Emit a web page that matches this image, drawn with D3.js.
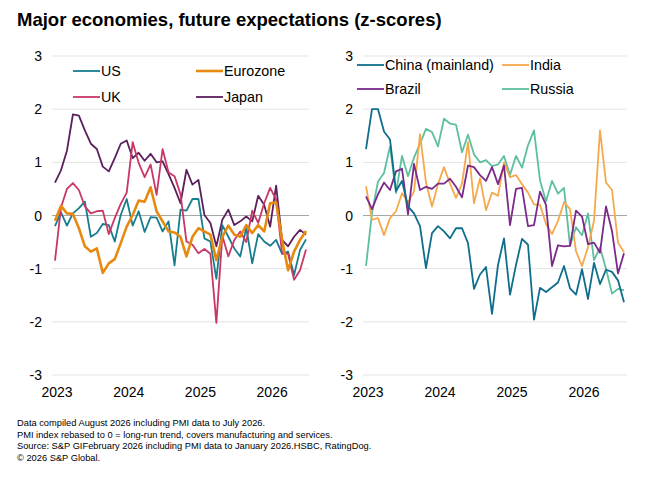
<!DOCTYPE html>
<html>
<head>
<meta charset="utf-8">
<script src="https://cdn.jsdelivr.net/npm/d3@7"></script>
<style>
  body { margin: 0; background: #fff; }
  text { font-family: "Liberation Sans", Arial, sans-serif; fill: #000; }
</style>
</head>
<body>
<div id="chart"></div>
<script>
// monthly z-scores, Jan 2023 onwards
const us = [-0.2, 0.06, -0.19, 0.04, 0.14, 0.26, -0.4, -0.33, -0.16, -0.18, -0.49, 0.01, 0.31, -0.19, 0.08, -0.31, -0.03, -0.04, -0.3, -0.11, -0.94, 0.11, 0.09, 0.31, 0.31, -0.43, -0.49, -1.19, -0.18, -0.4, -0.62, -0.77, -0.23, -0.9, -0.35, -0.49, -0.57, -0.46, -0.72, -0.68, -1.12, -0.65, -0.45];
const eurozone = [-0.1, 0.18, 0.04, 0.03, -0.24, -0.58, -0.68, -0.62, -1.08, -0.9, -0.82, -0.52, -0.21, 0.01, 0.28, 0.26, 0.53, 0.08, -0.11, -0.3, -0.32, -0.4, -0.77, -0.4, -0.24, -0.3, -0.36, -0.84, -0.4, -0.19, -0.36, -0.4, -0.18, -0.33, -0.18, -0.3, 0.23, 0.25, -0.46, -1.03, -0.68, -0.46, -0.29];
const uk = [-0.85, 0.15, 0.5, 0.61, 0.48, 0.17, 0.04, 0.08, 0.09, -0.35, -0.05, 0.22, 0.43, 1.38, 0.99, 0.72, 0.96, 0.39, 1.25, 0.81, 0.74, 0.4, -0.49, -0.55, -0.71, -0.63, -0.72, -2.02, -0.38, -0.77, -0.46, -0.3, -0.5, 0.09, -0.14, 0.23, 0.52, 0.3, -0.71, -0.72, -1.21, -1.03, -0.64];
const japan = [0.62, 0.85, 1.22, 1.9, 1.88, 1.6, 1.35, 1.25, 0.92, 0.83, 1.08, 1.35, 1.41, 1.08, 1.18, 1.03, 1.16, 1.0, 1.02, 0.78, 0.52, 0.23, 0.86, 0.58, 0.67, 0.01, -0.14, -0.58, -0.08, 0.11, -0.18, -0.11, -0.02, -0.11, 0.37, 0.2, -0.21, 0.56, -0.46, -0.58, -0.4, -0.27, -0.36];

const china = [1.25, 2.0, 2.0, 1.58, 1.43, 0.46, 0.65, 0.17, 0.04, -0.2, -0.99, -0.33, -0.2, -0.3, -0.43, -0.24, -0.24, -0.52, -1.38, -1.11, -0.97, -1.85, -0.93, -0.43, -1.49, -0.93, -0.44, -0.55, -1.96, -1.36, -1.44, -1.35, -1.26, -0.95, -1.37, -1.49, -1.01, -1.57, -0.89, -1.29, -1.02, -1.06, -1.22, -1.63];
const india = [0.55, -0.08, -0.05, -0.37, -0.05, 0.08, 0.42, 0.25, 0.45, 1.53, 0.62, 0.17, 0.59, 0.91, 0.6, 0.33, 0.6, 1.38, 0.23, 0.7, 0.1, 0.43, 0.37, 1.0, 0.72, 0.76, 0.59, 0.43, 0.21, 0.2, -0.16, -0.35, -0.1, 0.25, 0.12, -0.67, -0.95, -0.6, -0.1, 1.6, 0.62, 0.48, -0.51, -0.69];
const brazil = [0.36, 0.12, 0.4, 0.62, 0.48, 0.83, 0.88, 0.02, 0.97, 0.48, 0.54, 0.5, 0.6, 0.6, 0.69, 0.54, 0.34, 0.94, 0.91, 0.76, 0.65, 0.91, 0.59, 0.94, -0.18, 0.5, 0.52, -0.2, -0.18, 0.45, 0.2, -0.95, -0.56, -0.58, -0.57, 0.09, -0.02, -0.54, -0.51, -0.7, 0.17, -0.29, -1.09, -0.71];
const russia = [-0.95, 0.05, 0.64, 0.8, 1.3, 0.42, 1.12, 0.74, 1.09, 1.35, 1.63, 1.57, 1.3, 1.82, 1.73, 1.71, 1.19, 1.52, 1.15, 1.0, 1.04, 0.93, 0.96, 1.12, 0.76, 1.12, 0.9, 1.32, 1.6, 0.66, 0.27, 0.65, 0.41, 0.52, -0.57, -0.22, -0.37, 0.04, -0.84, -0.6, -1.0, -1.47, -1.38, -1.41];

const yearLabels = ["2023", "2024", "2025", "2026"];
const yTicks = [3, 2, 1, 0, -1, -2, -3];

const footnotes = [
    "Data compiled August 2026 including PMI data to July 2026.",
    "PMI index rebased to 0 = long-run trend, covers manufacturing and services.",
    "Source: S&P GIFebruary 2026 including PMI data to January 2026.HSBC, RatingDog.",
    "\u00A9 2026 S&P Global."
];

let w = 652;
let h = 483;

let svg = d3.select("#chart")
    .append("svg")
    .attr("width", w)
    .attr("height", h)
    .style("background-color", "#fff");

svg.append("text")
    .attr("x", 17)
    .attr("y", 26)
    .style("font-size", "18.5px")
    .style("font-weight", "bold")
    .text("Major economies, future expectations (z-scores)");

const y = d3.scaleLinear().domain([-3, 3]).range([375, 56]);

function drawPanel(opts) {
    const n = opts.series[0].values.length;
    const x = d3.scalePoint()
        .domain(d3.range(n))
        .range([opts.left, opts.right])
        .padding(0.5);

    const g = svg.append("g");

    // gridlines
    g.selectAll(".grid")
        .data(yTicks)
        .enter()
        .append("line")
        .attr("x1", opts.left)
        .attr("x2", opts.right)
        .attr("y1", d => y(d))
        .attr("y2", d => y(d))
        .attr("stroke", d => d === 0 ? "#a6a6a6" : "#e3e3e3")
        .attr("stroke-width", 1);

    g.selectAll(".ylab")
        .data(yTicks)
        .enter()
        .append("text")
        .attr("x", opts.left - 10)
        .attr("y", d => y(d))
        .attr("dy", "0.36em")
        .attr("text-anchor", "end")
        .style("font-size", "14px")
        .text(d => d);

    g.selectAll(".xlab")
        .data(yearLabels)
        .enter()
        .append("text")
        .attr("x", (d, i) => x(i * 12) + 2)
        .attr("y", 397)
        .attr("text-anchor", "middle")
        .style("font-size", "14px")
        .text(d => d);

    const line = d3.line()
        .x((d, i) => x(i))
        .y(d => y(d));

    // draw back to front
    opts.order.forEach(k => {
        const s = opts.series[k];
        g.append("path")
            .datum(s.values)
            .attr("fill", "none")
            .attr("stroke", s.color)
            .attr("stroke-width", s.width)
            .attr("stroke-linejoin", "round")
            .attr("d", line);
    });

    // legend
    opts.series.forEach((s, i) => {
        const lx = opts.legX[i % 2];
        const ly = opts.legY[Math.floor(i / 2)];
        g.append("line")
            .attr("x1", lx)
            .attr("x2", lx + 27)
            .attr("y1", ly)
            .attr("y2", ly)
            .attr("stroke", s.color)
            .attr("stroke-width", s.width);
        g.append("text")
            .attr("x", lx + 28)
            .attr("y", ly)
            .attr("dy", "0.36em")
            .style("font-size", "14.3px")
            .text(s.name);
    });
}

drawPanel({
    left: 52, right: 309,
    legX: [73, 196], legY: [71, 97],
    series: [
        { name: "US", values: us, color: "#167d8f", width: 1.8 },
        { name: "Eurozone", values: eurozone, color: "#e8890f", width: 2.6 },
        { name: "UK", values: uk, color: "#c93765", width: 1.8 },
        { name: "Japan", values: japan, color: "#5a1f5c", width: 1.8 }
    ],
    order: [3, 0, 2, 1]
});

drawPanel({
    left: 363, right: 627,
    legX: [357, 502], legY: [65, 89],
    series: [
        { name: "China (mainland)", values: china, color: "#0f6e8c", width: 1.8 },
        { name: "India", values: india, color: "#f6a94c", width: 1.8 },
        { name: "Brazil", values: brazil, color: "#7a2a8a", width: 1.8 },
        { name: "Russia", values: russia, color: "#5cbf9f", width: 1.8 }
    ],
    order: [3, 1, 2, 0]
});

svg.selectAll(".foot")
    .data(footnotes)
    .enter()
    .append("text")
    .attr("x", 17)
    .attr("y", (d, i) => 426 + i * 11.7)
    .style("font-size", "9.3px")
    .text(d => d);
</script>
</body>
</html>
